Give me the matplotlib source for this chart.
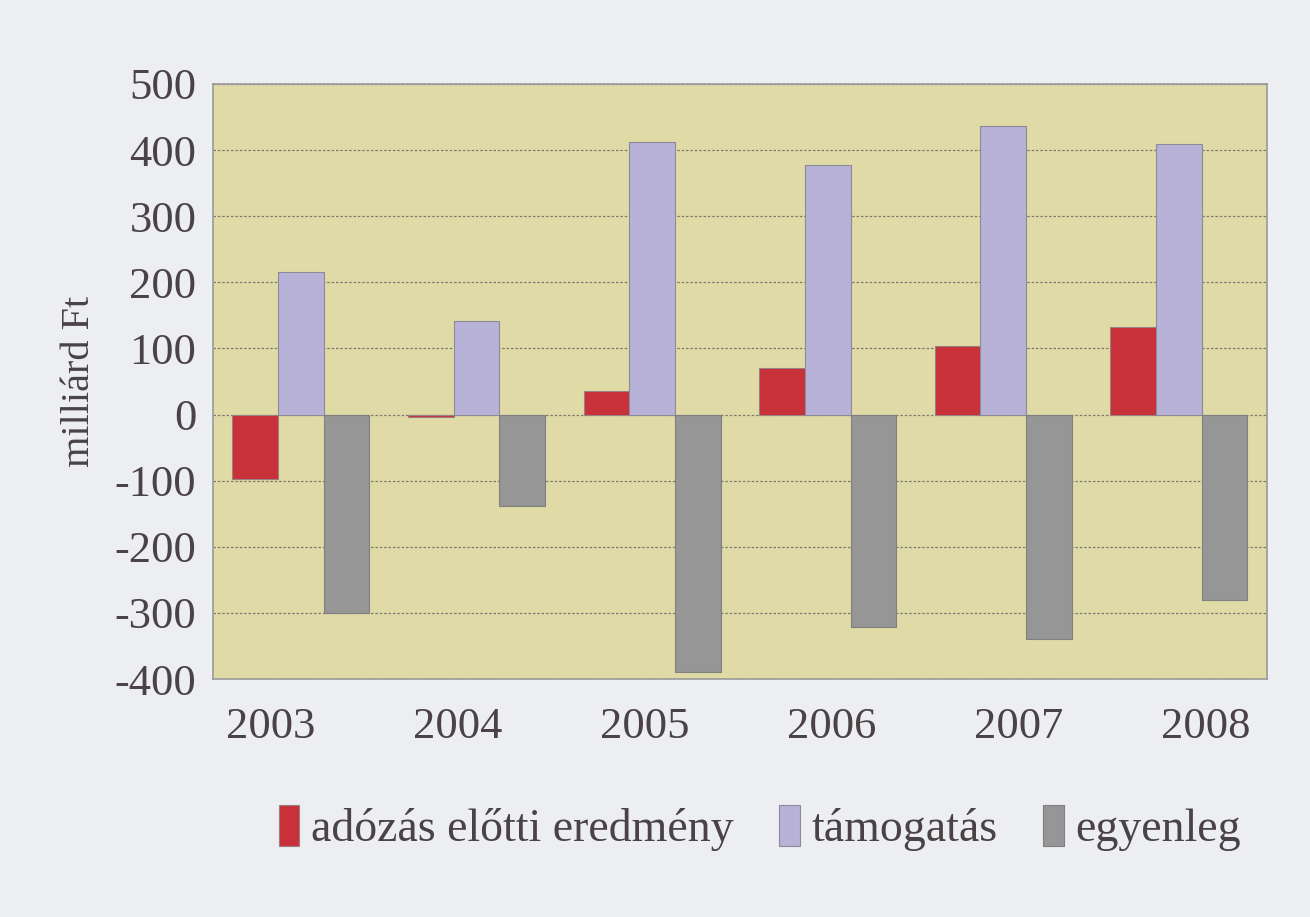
import numpy as np
import matplotlib.pyplot as plt

# data (milliárd Ft)
years = ['2003', '2004', '2005', '2006', '2007', '2008']
eredmeny = [-98, -3, 35, 71, 103, 133]
tamogatas = [215, 141, 413, 378, 436, 410]
egyenleg = [-300, -139, -389, -322, -339, -280]
labels = ['adózás előtti eredmény', 'támogatás', 'egyenleg']

plt.rcParams['font.family'] = ['Liberation Serif', 'DejaVu Serif']
txt = '#4a4244'

fig = plt.figure(figsize=(13.1, 9.17), dpi=100, facecolor='#eceef2')
ax = fig.add_axes([0.1626, 0.2595, 0.8044, 0.6489])
ax.set_facecolor('#e0dba6')

x = np.arange(len(years))
w = 0.26
ax.bar(x - w, eredmeny, w, color='#c8303a', edgecolor='#9a8080', linewidth=0.8, zorder=3, label=labels[0])
ax.bar(x, tamogatas, w, color='#b8b2d8', edgecolor='#8c8a96', linewidth=0.8, zorder=3, label=labels[1])
ax.bar(x + w, egyenleg, w, color='#969696', edgecolor='#808080', linewidth=0.8, zorder=3, label=labels[2])

ax.set_xlim(-0.5, len(years) - 0.5)
ax.set_ylim(-400, 500)
ax.set_yticks(np.arange(-400, 501, 100))
ax.set_yticklabels([str(v) for v in range(-400, 501, 100)])
ax.yaxis.grid(True, linestyle=(0, (2, 1.5)), color='#7a7a70', linewidth=0.9, zorder=1)

# year labels sit slightly spread out in the original
ax.set_xticks(np.linspace(-0.17, 5.15, len(years)))
ax.set_xticklabels(years)

ax.tick_params(axis='both', labelsize=32, colors=txt, length=0)
ax.tick_params(axis='y', pad=12)
ax.tick_params(axis='x', pad=20)
for s in ax.spines.values():
    s.set_color('#9a9a9a')
    s.set_linewidth(1.2)

ax.set_ylabel('milliárd Ft', fontsize=29, color=txt, labelpad=12)

fig.legend(loc='center', bbox_to_anchor=(0.58, 0.097), ncol=3, frameon=False,
           fontsize=33, handlelength=0.45, handleheight=1.0, handletextpad=0.25,
           columnspacing=1.0, labelcolor=txt)

fig.savefig('out.png', dpi=100, facecolor=fig.get_facecolor())
